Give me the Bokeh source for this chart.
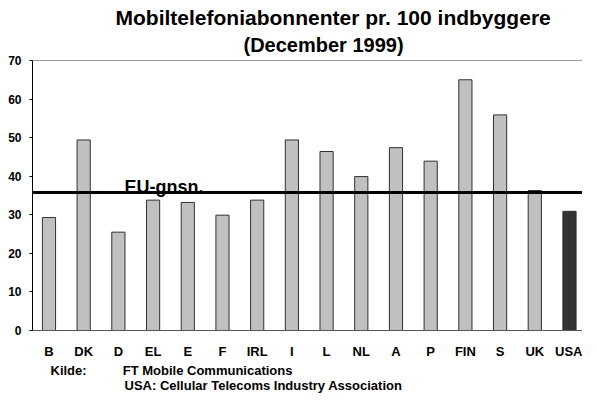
from bokeh.plotting import figure
from bokeh.models import (Range1d, FixedTicker, Span, Label, Title, ColumnDataSource)
from bokeh.embed import file_html
from bokeh.resources import INLINE

# ---- data ----
countries = ["B", "DK", "D", "EL", "E", "F", "IRL", "I", "L", "NL", "A", "P", "FIN", "S", "UK", "USA"]
subscribers = [29.3, 49.4, 25.5, 33.8, 33.2, 29.9, 33.8, 49.4, 46.4, 39.9, 47.4, 43.9, 65.0, 55.9, 36.3, 30.9]
eu_avg = 35.8
y_ticks = [0, 10, 20, 30, 40, 50, 60, 70]
title_text = "Mobiltelefoniabonnenter pr. 100 indbyggere"
subtitle_text = "(December 1999)"
avg_label = "EU-gnsn."
source_label = "Kilde:"
source_lines = ["FT Mobile Communications", "USA: Cellular Telecoms Industry Association"]

FONT = "Liberation Sans"
GREY = "#c0c0c0"
DARK = "#333333"

xs = list(range(len(countries)))
fills = [DARK if c == "USA" else GREY for c in countries]
src = ColumnDataSource(dict(x=xs, top=subscribers, fill=fills))

p = figure(width=582, height=396, output_backend="svg", toolbar_location=None,
           x_range=Range1d(-0.475, 15.375), y_range=Range1d(0, 70),
           min_border_left=32, min_border_right=0, min_border_top=60, min_border_bottom=66)
p.outline_line_color = None
p.xgrid.visible = False
p.ygrid.visible = False
p.background_fill_color = "white"
p.border_fill_color = "white"

p.vbar(x="x", top="top", width=0.38, bottom=0, source=src,
       fill_color="fill", line_color="#303030", line_width=1)

# y axis
ya = p.yaxis[0]
ya.ticker = FixedTicker(ticks=y_ticks)
ya.minor_tick_line_color = None
ya.major_tick_in = 0
ya.major_tick_out = 3
ya.major_label_standoff = 8
ya.major_label_text_font = FONT
ya.major_label_text_font_style = "bold"
ya.major_label_text_font_size = "12px"
ya.major_label_text_color = "black"
ya.axis_line_color = "black"
ya.major_tick_line_color = "black"

# x axis
xa = p.xaxis[0]
xa.ticker = FixedTicker(ticks=xs)
xa.major_label_overrides = {i: c for i, c in zip(xs, countries)}
xa.minor_tick_line_color = None
xa.major_tick_in = 0
xa.major_tick_out = 0
xa.major_label_standoff = 13
xa.major_label_text_font = FONT
xa.major_label_text_font_style = "bold"
xa.major_label_text_font_size = "13px"
xa.major_label_text_color = "black"
xa.axis_line_color = "#555555"

# top frame line and EU average line
p.add_layout(Span(location=70, dimension="width", line_color="#333333", line_width=1))
p.add_layout(Span(location=eu_avg, dimension="width", line_color="black", line_width=3))

p.add_layout(Label(x=2.176, y=37.15, text=avg_label, text_font=FONT, text_font_style="bold",
                   text_font_size="18px", text_color="black", text_baseline="alphabetic"))

def title(text, size, loc, offset, standoff):
    p.add_layout(Title(text=text, text_font=FONT, text_font_style="bold",
                       text_font_size=size, text_color="black", align="left",
                       offset=offset, standoff=standoff), loc)

# above: first added is nearest to the frame
title(subtitle_text, "20px", "above", 211, 9)
title(title_text, "21px", "above", 83, -2)

nb = "\u00a0" * 10
title(source_label + nb + source_lines[0], "13px", "below", 18, -1)
title(source_lines[1], "13px", "below", 92, -3)

open("out.html", "w").write(file_html(p, INLINE))
